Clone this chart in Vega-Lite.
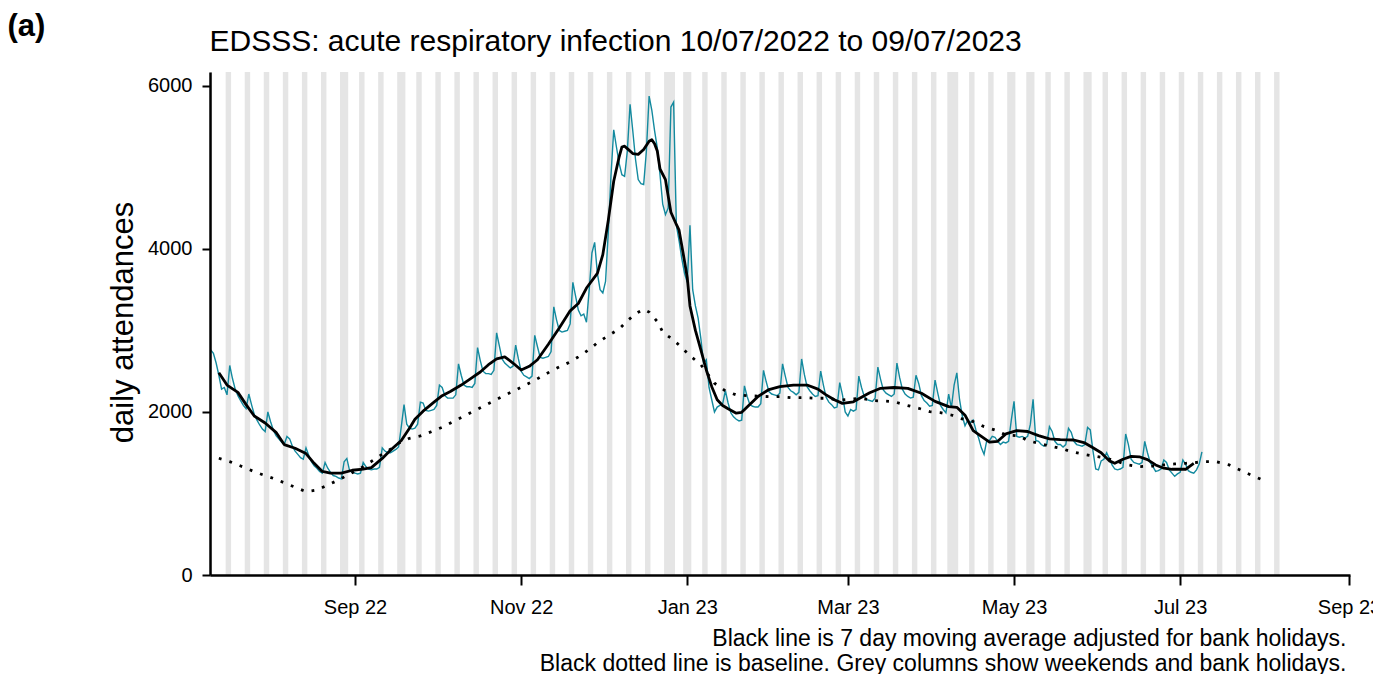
{
"$schema": "https://vega.github.io/schema/vega-lite/v6.json",
"width": 1140,
"height": 503,
"autosize": {"type": "none"},
"padding": {"left": 210, "top": 72, "right": 23, "bottom": 99},
"background": "white",
"config": {"view": {"stroke": null}, "font": "Liberation Sans", "axis": {"grid": false}},
"resolve": {"axis": {"x": "independent", "y": "independent"}},
"datasets": {
"shade": [
{"s":"2022-07-08T12:00Z","e":"2022-07-10T12:00Z"},{"s":"2022-07-15T12:00Z","e":"2022-07-17T12:00Z"},{"s":"2022-07-22T12:00Z","e":"2022-07-24T12:00Z"},{"s":"2022-07-29T12:00Z","e":"2022-07-31T12:00Z"},
{"s":"2022-08-05T12:00Z","e":"2022-08-07T12:00Z"},{"s":"2022-08-12T12:00Z","e":"2022-08-14T12:00Z"},{"s":"2022-08-19T12:00Z","e":"2022-08-21T12:00Z"},{"s":"2022-08-26T12:00Z","e":"2022-08-29T12:00Z"},
{"s":"2022-09-02T12:00Z","e":"2022-09-04T12:00Z"},{"s":"2022-09-09T12:00Z","e":"2022-09-11T12:00Z"},{"s":"2022-09-16T12:00Z","e":"2022-09-19T12:00Z"},{"s":"2022-09-23T12:00Z","e":"2022-09-25T12:00Z"},
{"s":"2022-09-30T12:00Z","e":"2022-10-02T12:00Z"},{"s":"2022-10-07T12:00Z","e":"2022-10-09T12:00Z"},{"s":"2022-10-14T12:00Z","e":"2022-10-16T12:00Z"},{"s":"2022-10-21T12:00Z","e":"2022-10-23T12:00Z"},
{"s":"2022-10-28T12:00Z","e":"2022-10-30T12:00Z"},{"s":"2022-11-04T12:00Z","e":"2022-11-06T12:00Z"},{"s":"2022-11-11T12:00Z","e":"2022-11-13T12:00Z"},{"s":"2022-11-18T12:00Z","e":"2022-11-20T12:00Z"},
{"s":"2022-11-25T12:00Z","e":"2022-11-27T12:00Z"},{"s":"2022-12-02T12:00Z","e":"2022-12-04T12:00Z"},{"s":"2022-12-09T12:00Z","e":"2022-12-11T12:00Z"},{"s":"2022-12-16T12:00Z","e":"2022-12-18T12:00Z"},
{"s":"2022-12-23T12:00Z","e":"2022-12-27T12:00Z"},{"s":"2022-12-30T12:00Z","e":"2023-01-02T12:00Z"},{"s":"2023-01-06T12:00Z","e":"2023-01-08T12:00Z"},{"s":"2023-01-13T12:00Z","e":"2023-01-15T12:00Z"},
{"s":"2023-01-20T12:00Z","e":"2023-01-22T12:00Z"},{"s":"2023-01-27T12:00Z","e":"2023-01-29T12:00Z"},{"s":"2023-02-03T12:00Z","e":"2023-02-05T12:00Z"},{"s":"2023-02-10T12:00Z","e":"2023-02-12T12:00Z"},
{"s":"2023-02-17T12:00Z","e":"2023-02-19T12:00Z"},{"s":"2023-02-24T12:00Z","e":"2023-02-26T12:00Z"},{"s":"2023-03-03T12:00Z","e":"2023-03-05T12:00Z"},{"s":"2023-03-10T12:00Z","e":"2023-03-12T12:00Z"},
{"s":"2023-03-17T12:00Z","e":"2023-03-19T12:00Z"},{"s":"2023-03-24T12:00Z","e":"2023-03-26T12:00Z"},{"s":"2023-03-31T12:00Z","e":"2023-04-02T12:00Z"},{"s":"2023-04-06T12:00Z","e":"2023-04-10T12:00Z"},
{"s":"2023-04-14T12:00Z","e":"2023-04-16T12:00Z"},{"s":"2023-04-21T12:00Z","e":"2023-04-23T12:00Z"},{"s":"2023-04-28T12:00Z","e":"2023-05-01T12:00Z"},{"s":"2023-05-05T12:00Z","e":"2023-05-08T12:00Z"},
{"s":"2023-05-12T12:00Z","e":"2023-05-14T12:00Z"},{"s":"2023-05-19T12:00Z","e":"2023-05-21T12:00Z"},{"s":"2023-05-26T12:00Z","e":"2023-05-29T12:00Z"},{"s":"2023-06-02T12:00Z","e":"2023-06-04T12:00Z"},
{"s":"2023-06-09T12:00Z","e":"2023-06-11T12:00Z"},{"s":"2023-06-16T12:00Z","e":"2023-06-18T12:00Z"},{"s":"2023-06-23T12:00Z","e":"2023-06-25T12:00Z"},{"s":"2023-06-30T12:00Z","e":"2023-07-02T12:00Z"},
{"s":"2023-07-07T12:00Z","e":"2023-07-09T12:00Z"},{"s":"2023-07-14T12:00Z","e":"2023-07-16T12:00Z"},{"s":"2023-07-21T12:00Z","e":"2023-07-23T12:00Z"},{"s":"2023-07-28T12:00Z","e":"2023-07-30T12:00Z"},
{"s":"2023-08-04T12:00Z","e":"2023-08-06T12:00Z"}
],
"daily": [
{"d":"2022-07-10","n":2760},{"d":"2022-07-11","n":2720},{"d":"2022-07-12","n":2600},{"d":"2022-07-13","n":2450},{"d":"2022-07-14","n":2280},{"d":"2022-07-15","n":2300},{"d":"2022-07-16","n":2210},
{"d":"2022-07-17","n":2570},{"d":"2022-07-18","n":2410},{"d":"2022-07-19","n":2280},{"d":"2022-07-20","n":2200},{"d":"2022-07-21","n":2140},{"d":"2022-07-22","n":2080},{"d":"2022-07-23","n":2040},
{"d":"2022-07-24","n":2220},{"d":"2022-07-25","n":2090},{"d":"2022-07-26","n":1970},{"d":"2022-07-27","n":1900},{"d":"2022-07-28","n":1840},{"d":"2022-07-29","n":1790},{"d":"2022-07-30","n":1760},
{"d":"2022-07-31","n":2000},{"d":"2022-08-01","n":1880},{"d":"2022-08-02","n":1780},{"d":"2022-08-03","n":1710},{"d":"2022-08-04","n":1670},{"d":"2022-08-05","n":1630},{"d":"2022-08-06","n":1600},
{"d":"2022-08-07","n":1700},{"d":"2022-08-08","n":1670},{"d":"2022-08-09","n":1580},{"d":"2022-08-10","n":1520},{"d":"2022-08-11","n":1480},{"d":"2022-08-12","n":1440},{"d":"2022-08-13","n":1420},
{"d":"2022-08-14","n":1560},{"d":"2022-08-15","n":1470},{"d":"2022-08-16","n":1390},{"d":"2022-08-17","n":1340},{"d":"2022-08-18","n":1310},{"d":"2022-08-19","n":1270},{"d":"2022-08-20","n":1250},
{"d":"2022-08-21","n":1380},{"d":"2022-08-22","n":1310},{"d":"2022-08-23","n":1260},{"d":"2022-08-24","n":1220},{"d":"2022-08-25","n":1210},{"d":"2022-08-26","n":1190},{"d":"2022-08-27","n":1180},
{"d":"2022-08-28","n":1390},{"d":"2022-08-29","n":1430},{"d":"2022-08-30","n":1280},{"d":"2022-08-31","n":1260},{"d":"2022-09-01","n":1250},{"d":"2022-09-02","n":1240},{"d":"2022-09-03","n":1250},
{"d":"2022-09-04","n":1380},{"d":"2022-09-05","n":1330},{"d":"2022-09-06","n":1300},{"d":"2022-09-07","n":1290},{"d":"2022-09-08","n":1300},{"d":"2022-09-09","n":1300},{"d":"2022-09-10","n":1320},
{"d":"2022-09-11","n":1560},{"d":"2022-09-12","n":1520},{"d":"2022-09-13","n":1500},{"d":"2022-09-14","n":1500},{"d":"2022-09-15","n":1520},{"d":"2022-09-16","n":1540},{"d":"2022-09-17","n":1570},
{"d":"2022-09-18","n":1820},{"d":"2022-09-19","n":2090},{"d":"2022-09-20","n":1850},{"d":"2022-09-21","n":1800},{"d":"2022-09-22","n":1790},{"d":"2022-09-23","n":1800},{"d":"2022-09-24","n":1850},
{"d":"2022-09-25","n":2120},{"d":"2022-09-26","n":2110},{"d":"2022-09-27","n":2020},{"d":"2022-09-28","n":2010},{"d":"2022-09-29","n":2020},{"d":"2022-09-30","n":2030},{"d":"2022-10-01","n":2080},
{"d":"2022-10-02","n":2330},{"d":"2022-10-03","n":2300},{"d":"2022-10-04","n":2200},{"d":"2022-10-05","n":2170},{"d":"2022-10-06","n":2170},{"d":"2022-10-07","n":2170},{"d":"2022-10-08","n":2210},
{"d":"2022-10-09","n":2590},{"d":"2022-10-10","n":2450},{"d":"2022-10-11","n":2330},{"d":"2022-10-12","n":2310},{"d":"2022-10-13","n":2310},{"d":"2022-10-14","n":2300},{"d":"2022-10-15","n":2350},
{"d":"2022-10-16","n":2790},{"d":"2022-10-17","n":2630},{"d":"2022-10-18","n":2500},{"d":"2022-10-19","n":2470},{"d":"2022-10-20","n":2470},{"d":"2022-10-21","n":2460},{"d":"2022-10-22","n":2510},
{"d":"2022-10-23","n":2970},{"d":"2022-10-24","n":2810},{"d":"2022-10-25","n":2650},{"d":"2022-10-26","n":2600},{"d":"2022-10-27","n":2570},{"d":"2022-10-28","n":2540},{"d":"2022-10-29","n":2560},
{"d":"2022-10-30","n":2820},{"d":"2022-10-31","n":2650},{"d":"2022-11-01","n":2500},{"d":"2022-11-02","n":2450},{"d":"2022-11-03","n":2430},{"d":"2022-11-04","n":2410},{"d":"2022-11-05","n":2440},
{"d":"2022-11-06","n":2940},{"d":"2022-11-07","n":2800},{"d":"2022-11-08","n":2670},{"d":"2022-11-09","n":2660},{"d":"2022-11-10","n":2670},{"d":"2022-11-11","n":2680},{"d":"2022-11-12","n":2740},
{"d":"2022-11-13","n":3290},{"d":"2022-11-14","n":3130},{"d":"2022-11-15","n":3000},{"d":"2022-11-16","n":2980},{"d":"2022-11-17","n":2990},{"d":"2022-11-18","n":3000},{"d":"2022-11-19","n":3080},
{"d":"2022-11-20","n":3590},{"d":"2022-11-21","n":3420},{"d":"2022-11-22","n":3250},{"d":"2022-11-23","n":3180},{"d":"2022-11-24","n":3200},{"d":"2022-11-25","n":3100},{"d":"2022-11-26","n":3500},
{"d":"2022-11-27","n":3950},{"d":"2022-11-28","n":4080},{"d":"2022-11-29","n":3700},{"d":"2022-11-30","n":3500},{"d":"2022-12-01","n":3460},{"d":"2022-12-02","n":3600},{"d":"2022-12-03","n":4200},
{"d":"2022-12-04","n":4900},{"d":"2022-12-05","n":5460},{"d":"2022-12-06","n":5250},{"d":"2022-12-07","n":5050},{"d":"2022-12-08","n":4910},{"d":"2022-12-09","n":4890},{"d":"2022-12-10","n":5200},
{"d":"2022-12-11","n":5775},{"d":"2022-12-12","n":5450},{"d":"2022-12-13","n":5100},{"d":"2022-12-14","n":4850},{"d":"2022-12-15","n":4800},{"d":"2022-12-16","n":4790},{"d":"2022-12-17","n":5200},
{"d":"2022-12-18","n":5875},{"d":"2022-12-19","n":5700},{"d":"2022-12-20","n":5450},{"d":"2022-12-21","n":5240},{"d":"2022-12-22","n":4910},{"d":"2022-12-23","n":4550},{"d":"2022-12-24","n":4420},
{"d":"2022-12-25","n":4500},{"d":"2022-12-26","n":5740},{"d":"2022-12-27","n":5800},{"d":"2022-12-28","n":4290},{"d":"2022-12-29","n":4100},{"d":"2022-12-30","n":3880},{"d":"2022-12-31","n":3700},
{"d":"2023-01-01","n":3590},{"d":"2023-01-02","n":4290},{"d":"2023-01-03","n":3500},{"d":"2023-01-04","n":3300},{"d":"2023-01-05","n":3150},{"d":"2023-01-06","n":2900},{"d":"2023-01-07","n":2600},
{"d":"2023-01-08","n":2640},{"d":"2023-01-09","n":2300},{"d":"2023-01-10","n":2150},{"d":"2023-01-11","n":2000},{"d":"2023-01-12","n":2060},{"d":"2023-01-13","n":2080},{"d":"2023-01-14","n":2100},
{"d":"2023-01-15","n":2260},{"d":"2023-01-16","n":2110},{"d":"2023-01-17","n":1990},{"d":"2023-01-18","n":1940},{"d":"2023-01-19","n":1910},{"d":"2023-01-20","n":1890},{"d":"2023-01-21","n":1900},
{"d":"2023-01-22","n":2320},{"d":"2023-01-23","n":2190},{"d":"2023-01-24","n":2090},{"d":"2023-01-25","n":2070},{"d":"2023-01-26","n":2060},{"d":"2023-01-27","n":2060},{"d":"2023-01-28","n":2100},
{"d":"2023-01-29","n":2510},{"d":"2023-01-30","n":2370},{"d":"2023-01-31","n":2250},{"d":"2023-02-01","n":2220},{"d":"2023-02-02","n":2210},{"d":"2023-02-03","n":2200},{"d":"2023-02-04","n":2230},
{"d":"2023-02-05","n":2590},{"d":"2023-02-06","n":2440},{"d":"2023-02-07","n":2300},{"d":"2023-02-08","n":2260},{"d":"2023-02-09","n":2240},{"d":"2023-02-10","n":2210},{"d":"2023-02-11","n":2240},
{"d":"2023-02-12","n":2650},{"d":"2023-02-13","n":2460},{"d":"2023-02-14","n":2310},{"d":"2023-02-15","n":2260},{"d":"2023-02-16","n":2220},{"d":"2023-02-17","n":2190},{"d":"2023-02-18","n":2200},
{"d":"2023-02-19","n":2500},{"d":"2023-02-20","n":2330},{"d":"2023-02-21","n":2180},{"d":"2023-02-22","n":2120},{"d":"2023-02-23","n":2090},{"d":"2023-02-24","n":2050},{"d":"2023-02-25","n":2060},
{"d":"2023-02-26","n":2360},{"d":"2023-02-27","n":2210},{"d":"2023-02-28","n":2000},{"d":"2023-03-01","n":1950},{"d":"2023-03-02","n":2030},{"d":"2023-03-03","n":2010},{"d":"2023-03-04","n":2030},
{"d":"2023-03-05","n":2440},{"d":"2023-03-06","n":2300},{"d":"2023-03-07","n":2190},{"d":"2023-03-08","n":2150},{"d":"2023-03-09","n":2140},{"d":"2023-03-10","n":2130},{"d":"2023-03-11","n":2170},
{"d":"2023-03-12","n":2550},{"d":"2023-03-13","n":2400},{"d":"2023-03-14","n":2270},{"d":"2023-03-15","n":2230},{"d":"2023-03-16","n":2210},{"d":"2023-03-17","n":2190},{"d":"2023-03-18","n":2220},
{"d":"2023-03-19","n":2600},{"d":"2023-03-20","n":2420},{"d":"2023-03-21","n":2280},{"d":"2023-03-22","n":2220},{"d":"2023-03-23","n":2190},{"d":"2023-03-24","n":2170},{"d":"2023-03-25","n":2180},
{"d":"2023-03-26","n":2450},{"d":"2023-03-27","n":2350},{"d":"2023-03-28","n":2200},{"d":"2023-03-29","n":2140},{"d":"2023-03-30","n":2110},{"d":"2023-03-31","n":2070},{"d":"2023-04-01","n":2080},
{"d":"2023-04-02","n":2390},{"d":"2023-04-03","n":2230},{"d":"2023-04-04","n":2080},{"d":"2023-04-05","n":2030},{"d":"2023-04-06","n":1990},{"d":"2023-04-07","n":2220},{"d":"2023-04-08","n":2050},
{"d":"2023-04-09","n":2330},{"d":"2023-04-10","n":2480},{"d":"2023-04-11","n":2150},{"d":"2023-04-12","n":1950},{"d":"2023-04-13","n":1830},{"d":"2023-04-14","n":1900},{"d":"2023-04-15","n":1870},
{"d":"2023-04-16","n":1900},{"d":"2023-04-17","n":1780},{"d":"2023-04-18","n":1680},{"d":"2023-04-19","n":1560},{"d":"2023-04-20","n":1480},{"d":"2023-04-21","n":1650},{"d":"2023-04-22","n":1650},
{"d":"2023-04-23","n":1700},{"d":"2023-04-24","n":1690},{"d":"2023-04-25","n":1640},{"d":"2023-04-26","n":1600},{"d":"2023-04-27","n":1630},{"d":"2023-04-28","n":1620},{"d":"2023-04-29","n":1640},
{"d":"2023-04-30","n":1900},{"d":"2023-05-01","n":2130},{"d":"2023-05-02","n":1700},{"d":"2023-05-03","n":1690},{"d":"2023-05-04","n":1700},{"d":"2023-05-05","n":1680},{"d":"2023-05-06","n":1700},
{"d":"2023-05-07","n":1850},{"d":"2023-05-08","n":2155},{"d":"2023-05-09","n":1650},{"d":"2023-05-10","n":1640},{"d":"2023-05-11","n":1600},{"d":"2023-05-12","n":1580},{"d":"2023-05-13","n":1600},
{"d":"2023-05-14","n":1820},{"d":"2023-05-15","n":1760},{"d":"2023-05-16","n":1640},{"d":"2023-05-17","n":1600},{"d":"2023-05-18","n":1600},{"d":"2023-05-19","n":1570},{"d":"2023-05-20","n":1600},
{"d":"2023-05-21","n":1800},{"d":"2023-05-22","n":1750},{"d":"2023-05-23","n":1640},{"d":"2023-05-24","n":1600},{"d":"2023-05-25","n":1590},{"d":"2023-05-26","n":1580},{"d":"2023-05-27","n":1600},
{"d":"2023-05-28","n":1810},{"d":"2023-05-29","n":1780},{"d":"2023-05-30","n":1520},{"d":"2023-05-31","n":1300},{"d":"2023-06-01","n":1290},{"d":"2023-06-02","n":1400},{"d":"2023-06-03","n":1420},
{"d":"2023-06-04","n":1500},{"d":"2023-06-05","n":1430},{"d":"2023-06-06","n":1350},{"d":"2023-06-07","n":1300},{"d":"2023-06-08","n":1290},{"d":"2023-06-09","n":1300},{"d":"2023-06-10","n":1320},
{"d":"2023-06-11","n":1730},{"d":"2023-06-12","n":1600},{"d":"2023-06-13","n":1420},{"d":"2023-06-14","n":1380},{"d":"2023-06-15","n":1370},{"d":"2023-06-16","n":1360},{"d":"2023-06-17","n":1380},
{"d":"2023-06-18","n":1640},{"d":"2023-06-19","n":1500},{"d":"2023-06-20","n":1380},{"d":"2023-06-21","n":1330},{"d":"2023-06-22","n":1270},{"d":"2023-06-23","n":1280},{"d":"2023-06-24","n":1300},
{"d":"2023-06-25","n":1410},{"d":"2023-06-26","n":1380},{"d":"2023-06-27","n":1290},{"d":"2023-06-28","n":1250},{"d":"2023-06-29","n":1210},{"d":"2023-06-30","n":1240},{"d":"2023-07-01","n":1260},
{"d":"2023-07-02","n":1410},{"d":"2023-07-03","n":1360},{"d":"2023-07-04","n":1280},{"d":"2023-07-05","n":1260},{"d":"2023-07-06","n":1250},{"d":"2023-07-07","n":1290},{"d":"2023-07-08","n":1360},
{"d":"2023-07-09","n":1510}
],
"avg": [
{"d":"2022-07-13","m":2480},{"d":"2022-07-16","m":2330},{"d":"2022-07-20","m":2240},{"d":"2022-07-23","m":2090},{"d":"2022-07-26","m":1950},{"d":"2022-07-30","m":1865},
{"d":"2022-08-03","m":1750},{"d":"2022-08-06","m":1600},{"d":"2022-08-10","m":1555},{"d":"2022-08-14","m":1490},{"d":"2022-08-17","m":1370},{"d":"2022-08-20","m":1270},
{"d":"2022-08-23","m":1250},{"d":"2022-08-27","m":1250},{"d":"2022-08-31","m":1285},{"d":"2022-09-04","m":1300},{"d":"2022-09-07","m":1317},{"d":"2022-09-11","m":1430},
{"d":"2022-09-14","m":1530},{"d":"2022-09-18","m":1650},{"d":"2022-09-21","m":1800},{"d":"2022-09-23","m":1910},{"d":"2022-09-26","m":2010},{"d":"2022-09-30","m":2120},
{"d":"2022-10-03","m":2200},{"d":"2022-10-06","m":2250},{"d":"2022-10-10","m":2330},{"d":"2022-10-14","m":2420},{"d":"2022-10-17","m":2490},{"d":"2022-10-20","m":2580},
{"d":"2022-10-23","m":2650},{"d":"2022-10-26","m":2675},{"d":"2022-10-29","m":2600},{"d":"2022-11-01","m":2515},{"d":"2022-11-04","m":2560},{"d":"2022-11-07","m":2640},
{"d":"2022-11-11","m":2830},{"d":"2022-11-15","m":3030},{"d":"2022-11-19","m":3240},{"d":"2022-11-22","m":3330},{"d":"2022-11-25","m":3520},{"d":"2022-11-29","m":3700},
{"d":"2022-12-01","m":3930},{"d":"2022-12-03","m":4350},{"d":"2022-12-05","m":4830},{"d":"2022-12-07","m":5130},{"d":"2022-12-08","m":5250},{"d":"2022-12-09","m":5260},
{"d":"2022-12-10","m":5230},{"d":"2022-12-12","m":5170},{"d":"2022-12-14","m":5160},{"d":"2022-12-16","m":5220},{"d":"2022-12-18","m":5320},{"d":"2022-12-19","m":5340},
{"d":"2022-12-20","m":5290},{"d":"2022-12-21","m":5200},{"d":"2022-12-22","m":4980},{"d":"2022-12-24","m":4850},{"d":"2022-12-26","m":4450},{"d":"2022-12-28","m":4300},
{"d":"2022-12-29","m":4230},{"d":"2022-12-31","m":3850},{"d":"2023-01-01","m":3650},{"d":"2023-01-02","m":3300},{"d":"2023-01-04","m":3000},{"d":"2023-01-06","m":2760},
{"d":"2023-01-08","m":2515},{"d":"2023-01-10","m":2310},{"d":"2023-01-12","m":2150},{"d":"2023-01-14","m":2080},{"d":"2023-01-16","m":2040},{"d":"2023-01-19","m":1985},
{"d":"2023-01-21","m":1995},{"d":"2023-01-23","m":2060},{"d":"2023-01-27","m":2190},{"d":"2023-01-31","m":2275},{"d":"2023-02-04","m":2310},{"d":"2023-02-09","m":2330},
{"d":"2023-02-14","m":2330},{"d":"2023-02-18","m":2280},{"d":"2023-02-21","m":2210},{"d":"2023-02-24","m":2150},{"d":"2023-02-27","m":2105},{"d":"2023-03-03","m":2125},
{"d":"2023-03-06","m":2180},{"d":"2023-03-09","m":2235},{"d":"2023-03-13","m":2290},{"d":"2023-03-18","m":2300},{"d":"2023-03-23","m":2290},{"d":"2023-03-28","m":2230},
{"d":"2023-04-02","m":2130},{"d":"2023-04-07","m":2065},{"d":"2023-04-10","m":2057},{"d":"2023-04-13","m":1960},{"d":"2023-04-16","m":1770},{"d":"2023-04-19","m":1700},
{"d":"2023-04-22","m":1630},{"d":"2023-04-25","m":1640},{"d":"2023-04-28","m":1730},{"d":"2023-05-02","m":1770},{"d":"2023-05-06","m":1760},{"d":"2023-05-10","m":1710},
{"d":"2023-05-14","m":1670},{"d":"2023-05-18","m":1660},{"d":"2023-05-23","m":1656},{"d":"2023-05-27","m":1620},{"d":"2023-05-30","m":1560},{"d":"2023-06-02","m":1500},
{"d":"2023-06-05","m":1400},{"d":"2023-06-07","m":1370},{"d":"2023-06-10","m":1420},{"d":"2023-06-13","m":1455},{"d":"2023-06-16","m":1450},{"d":"2023-06-19","m":1415},
{"d":"2023-06-22","m":1350},{"d":"2023-06-25","m":1310},{"d":"2023-06-28","m":1297},{"d":"2023-07-03","m":1297},{"d":"2023-07-06","m":1370}
],
"base": [
{"d":"2022-07-13","b":1432},{"d":"2022-07-17","b":1391},{"d":"2022-07-21","b":1337},{"d":"2022-07-26","b":1268},{"d":"2022-07-30","b":1219},{"d":"2022-08-03","b":1174},
{"d":"2022-08-07","b":1117},{"d":"2022-08-11","b":1064},{"d":"2022-08-14","b":1022},{"d":"2022-08-18","b":1043},{"d":"2022-08-22","b":1104},{"d":"2022-08-26","b":1166},
{"d":"2022-08-30","b":1239},{"d":"2022-09-03","b":1309},{"d":"2022-09-06","b":1370},{"d":"2022-09-10","b":1460},{"d":"2022-09-14","b":1542},{"d":"2022-09-17","b":1616},
{"d":"2022-09-21","b":1677},{"d":"2022-09-25","b":1706},{"d":"2022-09-29","b":1758},{"d":"2022-10-03","b":1812},{"d":"2022-10-14","b":2000},{"d":"2022-10-24","b":2170},
{"d":"2022-11-05","b":2370},{"d":"2022-11-13","b":2520},{"d":"2022-11-19","b":2614},{"d":"2022-11-22","b":2675},{"d":"2022-11-26","b":2766},{"d":"2022-11-29","b":2849},
{"d":"2022-12-03","b":2936},{"d":"2022-12-07","b":3018},{"d":"2022-12-10","b":3118},{"d":"2022-12-13","b":3205},{"d":"2022-12-16","b":3260},{"d":"2022-12-18","b":3225},
{"d":"2022-12-21","b":3109},{"d":"2022-12-23","b":2980},{"d":"2022-12-27","b":2880},{"d":"2022-12-30","b":2790},{"d":"2023-01-02","b":2690},{"d":"2023-01-06","b":2580},
{"d":"2023-01-11","b":2352},{"d":"2023-01-15","b":2258},{"d":"2023-01-19","b":2209},{"d":"2023-01-23","b":2200},{"d":"2023-01-31","b":2188},{"d":"2023-02-04","b":2188},
{"d":"2023-02-08","b":2176},{"d":"2023-02-13","b":2176},{"d":"2023-02-17","b":2168},{"d":"2023-02-21","b":2168},{"d":"2023-02-26","b":2147},{"d":"2023-03-02","b":2156},
{"d":"2023-03-06","b":2168},{"d":"2023-03-10","b":2139},{"d":"2023-03-14","b":2135},{"d":"2023-03-18","b":2126},{"d":"2023-03-22","b":2086},{"d":"2023-03-27","b":2045},
{"d":"2023-03-31","b":2004},{"d":"2023-04-04","b":1992},{"d":"2023-04-08","b":1963},{"d":"2023-04-11","b":1923},{"d":"2023-04-16","b":1881},{"d":"2023-04-20","b":1820},
{"d":"2023-04-24","b":1779},{"d":"2023-04-28","b":1718},{"d":"2023-05-03","b":1706},{"d":"2023-05-06","b":1648},{"d":"2023-05-10","b":1616},{"d":"2023-05-14","b":1583},
{"d":"2023-05-19","b":1546},{"d":"2023-05-22","b":1513},{"d":"2023-05-26","b":1485},{"d":"2023-05-30","b":1460},{"d":"2023-06-04","b":1432},{"d":"2023-06-08","b":1391},
{"d":"2023-06-12","b":1350},{"d":"2023-06-16","b":1329},{"d":"2023-06-21","b":1337},{"d":"2023-06-25","b":1350},{"d":"2023-06-29","b":1362},{"d":"2023-07-03","b":1370},
{"d":"2023-07-06","b":1378},{"d":"2023-07-10","b":1391},{"d":"2023-07-14","b":1391},{"d":"2023-07-19","b":1350},{"d":"2023-07-23","b":1288},{"d":"2023-07-27","b":1227},
{"d":"2023-07-31","b":1170}
]
},
"layer": [
{
"data": {"name": "shade"},
"mark": {"type": "rect", "color": "#e5e5e5", "clip": true},
"encoding": {
"x": {"field": "s", "type": "temporal",
"scale": {"type": "utc", "domain": [{"year": 2022, "month": 7, "date": 9, "hours": 18, "utc": true}, {"year": 2023, "month": 9, "date": 1, "hours": 9, "utc": true}]},
"axis": {"orient": "bottom", "zindex": 1,
"values": [{"year": 2022, "month": 9, "date": 1, "utc": true}, {"year": 2022, "month": 11, "date": 1, "utc": true}, {"year": 2023, "month": 1, "date": 1, "utc": true}, {"year": 2023, "month": 3, "date": 1, "utc": true}, {"year": 2023, "month": 5, "date": 1, "utc": true}, {"year": 2023, "month": 7, "date": 1, "utc": true}, {"year": 2023, "month": 9, "date": 1, "utc": true}],
"format": "%b %y", "labelFont": "Liberation Sans", "labelFontSize": 20, "labelColor": "black", "labelPadding": 12, "labelFlush": false, "labelOverlap": false,
"tickSize": 10, "tickWidth": 2, "tickColor": "black", "domainColor": "black", "domainWidth": 2.5, "grid": false,
"title": ["Black line is 7 day moving average adjusted for bank holidays.", "Black dotted line is baseline. Grey columns show weekends and bank holidays."],
"titleFont": "Liberation Sans", "titleFontSize": 23, "titleFontWeight": "normal", "titleColor": "black", "titleAlign": "right", "titleAnchor": "end", "titleX": 1136, "titleY": 70, "titleBaseline": "alphabetic", "titleLineHeight": 25}},
"x2": {"field": "e"}
}
},
{
"data": {"name": "daily"},
"mark": {"type": "line", "color": "#138a9f", "strokeWidth": 1.4, "clip": true},
"encoding": {
"x": {"field": "d", "type": "temporal", "scale": {"type": "utc", "domain": [{"year": 2022, "month": 7, "date": 9, "hours": 18, "utc": true}, {"year": 2023, "month": 9, "date": 1, "hours": 9, "utc": true}]}, "axis": null},
"y": {"field": "n", "type": "quantitative", "scale": {"domain": [0, 6170], "nice": false, "zero": true},
"axis": {"orient": "left", "zindex": 1, "values": [0, 2000, 4000, 6000], "format": "d", "labelFont": "Liberation Sans", "labelFontSize": 20, "labelColor": "black", "labelPadding": 10, "labelFlush": false,
"tickSize": 8, "tickWidth": 2, "tickColor": "black", "domainColor": "black", "domainWidth": 2.5, "grid": false,
"title": "daily attendances", "titleFont": "Liberation Sans", "titleFontSize": 31, "titleFontWeight": "normal", "titleColor": "black", "titleX": -78, "titleY": 250, "titleAngle": -90, "titleAlign": "center", "titleBaseline": "alphabetic"}}
}
},
{
"data": {"name": "avg"},
"mark": {"type": "line", "color": "black", "strokeWidth": 2.8, "strokeJoin": "round"},
"encoding": {
"x": {"field": "d", "type": "temporal", "scale": {"type": "utc", "domain": [{"year": 2022, "month": 7, "date": 9, "hours": 18, "utc": true}, {"year": 2023, "month": 9, "date": 1, "hours": 9, "utc": true}]}, "axis": null},
"y": {"field": "m", "type": "quantitative", "scale": {"domain": [0, 6170], "nice": false, "zero": true}, "axis": null}
}
},
{
"data": {"name": "base"},
"mark": {"type": "line", "color": "black", "strokeWidth": 2.8, "strokeDash": [2.8, 8.2], "strokeCap": "butt"},
"encoding": {
"x": {"field": "d", "type": "temporal", "scale": {"type": "utc", "domain": [{"year": 2022, "month": 7, "date": 9, "hours": 18, "utc": true}, {"year": 2023, "month": 9, "date": 1, "hours": 9, "utc": true}]},
"axis": {"orient": "top", "domain": false, "ticks": false, "labels": false, "grid": false,
"title": "EDSSS: acute respiratory infection 10/07/2022 to 09/07/2023", "titleFont": "Liberation Sans", "titleFontSize": 30, "titleFontWeight": "normal", "titleColor": "black",
"titleX": -1, "titleY": -22, "titleAlign": "left", "titleBaseline": "alphabetic", "titleAngle": 0}},
"y": {"field": "b", "type": "quantitative", "scale": {"domain": [0, 6170], "nice": false, "zero": true},
"axis": {"orient": "right", "domain": false, "ticks": false, "labels": false, "grid": false,
"title": "(a)", "titleFont": "Liberation Sans", "titleFontSize": 31, "titleFontWeight": "bold", "titleColor": "black",
"titleX": -1343, "titleY": -37, "titleAlign": "left", "titleBaseline": "alphabetic", "titleAngle": 0}}
}
}
]
}
